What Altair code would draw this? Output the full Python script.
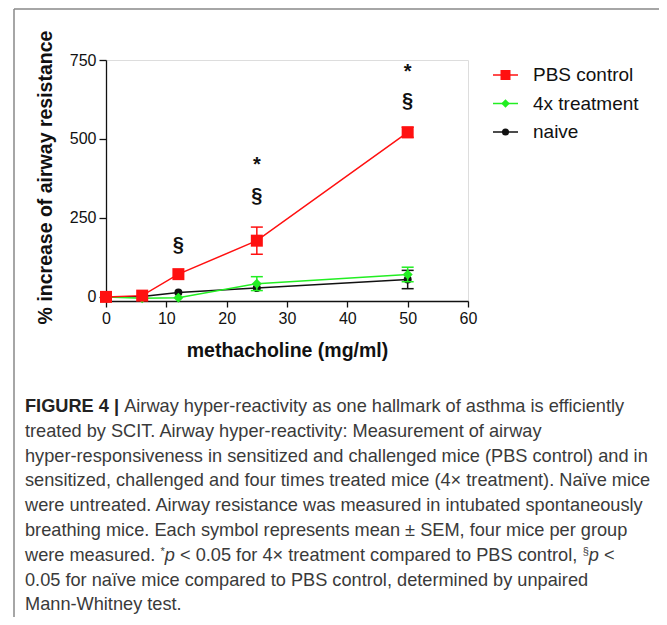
import altair as alt
import pandas as pd

# ---------------- data ----------------
doses = [0, 6, 12, 25, 50]
pbs_mean = [0, 4, 72, 178, 521]
pbs_sem = [0, 0, 0, 43, 16]
tx_mean = [0, -4, -3, 42, 71]
tx_sem = [0, 0, 0, 22, 23]
naive_mean = [0, 1, 14, 28, 55]
naive_sem = [0, 0, 0, 0, 29]

series_names = ["PBS control", "4x treatment", "naive"]
series_colors = ["#ff1010", "#22ee22", "#111111"]
series_shapes = ["square", "diamond", "circle"]
series_sizes = [144, 100, 64]
legend_sizes = [100, 72, 50]

sig_dose = [12, 25, 25, 50, 50]
sig_level = [163, 417, 320, 713, 620]
sig_symbol = ["§", "*", "§", "*", "§"]

x_ticks = [0, 10, 20, 30, 40, 50, 60]
y_ticks = [0, 250, 500, 750]
x_title = "methacholine (mg/ml)"
y_title = "% increase of airway resistance"

caption_lines = [
    "FIGURE 4 | Airway hyper-reactivity as one hallmark of asthma is efficiently",
    "treated by SCIT. Airway hyper-reactivity: Measurement of airway",
    "hyper-responsiveness in sensitized and challenged mice (PBS control) and in",
    "sensitized, challenged and four times treated mice (4\u00d7 treatment). Na\u00efve mice",
    "were untreated. Airway resistance was measured in intubated spontaneously",
    "breathing mice. Each symbol represents mean \u00b1 SEM, four mice per group",
    "were measured. *p < 0.05 for 4\u00d7 treatment compared to PBS control, \u00a7p <",
    "0.05 for na\u00efve mice compared to PBS control, determined by unpaired",
    "Mann-Whitney test.",
]

# ---------------- layout constants ----------------
FONT = "Liberation Sans"
W, H = 362, 241
PAD = {"left": 98, "top": 52, "right": 191, "bottom": 316}
CAP_COLOR = "#3a3a3a"
CAP_SIZE = 18.2
CAP_X = 25 - 106
CAP_Y0 = 412 - 60
CAP_DY = 24.8

# Arial-compatible advance widths (1/1000 em)
WR = {' ': 278, '.': 278, ',': 278, '*': 389, '<': 584, '0': 556, '4': 556, '5': 556,
      '\u00d7': 584, '\u00a7': 556, 'p': 556, 'P': 667, 'B': 667, 'S': 667, 'm': 833,
      'w': 722, 'r': 333, 's': 500, 'c': 500, 't': 278, 'f': 278, 'l': 222, 'i': 222,
      'o': 556, 'n': 556, 'e': 556, 'a': 556, 'u': 556, 'd': 556}
WB = {'F': 611, 'I': 278, 'G': 778, 'U': 722, 'R': 722, 'E': 667, ' ': 278,
      '4': 556, '|': 280}


def tw(s, size, table):
    return sum(table.get(ch, 556) for ch in s) * size / 1000.0


one = pd.DataFrame({"k": [0]})


def seg(text, x, y, size=CAP_SIZE, weight="normal", style="normal", color=CAP_COLOR):
    # leading blanks are dropped by the renderer: shift the text instead
    lead = len(text) - len(text.lstrip(" "))
    x = x + lead * 0.278 * size
    return alt.Chart(one).mark_text(
        text=text.strip(" "), align="left", baseline="alphabetic", font=FONT, fontSize=size,
        fontWeight=weight, fontStyle=style, color=color,
    ).encode(x=alt.value(x), y=alt.value(y))


# ---------------- data frames ----------------
means = [pbs_mean, tx_mean, naive_mean]
sems = [pbs_sem, tx_sem, naive_sem]

X = alt.X("dose:Q", scale=alt.Scale(domain=[0, 60], nice=False, zero=False),
          axis=alt.Axis(values=x_ticks, title=x_title, grid=False, tickSize=6,
                        labelFontSize=16, labelPadding=3, labelFont=FONT,
                        titleFont=FONT, titleFontSize=19.5, titleFontWeight="bold",
                        titleX=181, titleY=49, titleAlign="center", titleBaseline="middle",
                        domainColor="#111", tickColor="#111", labelColor="#111",
                        titleColor="#111", domainWidth=1.3, tickWidth=1.3, labelFlush=False))
Y = alt.Y("mean:Q", scale=alt.Scale(domain=[-13, 750], nice=False, zero=False),
          axis=alt.Axis(values=y_ticks, title=y_title, grid=False, tickSize=7,
                        labelFontSize=16, labelPadding=3, labelFont=FONT,
                        titleFont=FONT, titleFontSize=19.5, titleFontWeight="bold",
                        titleX=-61, titleY=117, titleAngle=270, titleAlign="center",
                        titleBaseline="middle",
                        domainColor="#111", tickColor="#111", labelColor="#111",
                        titleColor="#111", domainWidth=1.3, tickWidth=1.3))

layers = []
# draw order: naive, 4x treatment, PBS control (PBS on top)
for idx in [2, 1, 0]:
    df = pd.DataFrame({"dose": doses, "mean": means[idx], "sem": sems[idx]})
    df["lo"] = df["mean"] - df["sem"]
    df["hi"] = df["mean"] + df["sem"]
    err = df[df["sem"] > 0]
    caps = pd.DataFrame({"dose": list(err["dose"]) * 2,
                         "mean": list(err["lo"]) + list(err["hi"])})
    col = series_colors[idx]
    base = alt.Chart(df)
    layers.append(base.mark_line(color=col, strokeWidth=1.5).encode(x=X, y=Y))
    if len(err):
        layers.append(alt.Chart(err).mark_rule(color=col, strokeWidth=1.5).encode(
            x=X, y=alt.Y("lo:Q"), y2="hi:Q"))
        layers.append(alt.Chart(caps).mark_tick(color=col, orient="horizontal", size=12,
                                                thickness=1.5, opacity=1).encode(x=X, y=Y))
    layers.append(base.mark_point(shape=series_shapes[idx], filled=True, opacity=1,
                                  size=series_sizes[idx], color=col, strokeWidth=0)
                  .encode(x=X, y=Y))

sig_df = pd.DataFrame({"dose": sig_dose, "mean": sig_level, "sym": sig_symbol})
layers.append(alt.Chart(sig_df).mark_text(font=FONT, fontSize=20, fontWeight="bold",
                                          color="#111", baseline="middle")
              .encode(x=X, y=Y, text="sym:N"))

# legend (custom)
for i, name in enumerate(series_names):
    ly = 15 + i * 28.5
    col = series_colors[i]
    layers.append(alt.Chart(one).mark_rule(color=col, strokeWidth=1.5).encode(
        x=alt.value(387), x2=alt.value(412), y=alt.value(ly)))
    layers.append(alt.Chart(one).mark_point(shape=series_shapes[i], filled=True, opacity=1,
                                            size=legend_sizes[i], color=col, strokeWidth=0)
                  .encode(x=alt.value(399.5), y=alt.value(ly)))
    layers.append(alt.Chart(one).mark_text(text=name, font=FONT, fontSize=19, color="#111",
                                           align="left", baseline="middle")
                  .encode(x=alt.value(427), y=alt.value(ly)))

# frame border
layers.append(alt.Chart(one).mark_rule(color="#888888", strokeWidth=1.5).encode(
    x=alt.value(-92), y=alt.value(-51), y2=alt.value(560)))
layers.append(alt.Chart(one).mark_rule(color="#888888", strokeWidth=1.5).encode(
    x=alt.value(-92), x2=alt.value(560), y=alt.value(-51)))

# caption
for i, line in enumerate(caption_lines):
    y = CAP_Y0 + i * CAP_DY
    if i == 0:
        bold = "FIGURE 4 |"
        layers.append(seg(bold, CAP_X, y, weight="bold", color="#222222"))
        layers.append(seg(line[len(bold):], CAP_X + tw(bold, CAP_SIZE, WB), y))
    elif i == 6:
        parts = ["were measured. ", "*", "p", " < 0.05 for 4\u00d7 treatment compared to PBS control, ",
                 "\u00a7", "p", " <"]
        x = CAP_X
        for p in parts:
            if p in ("*", "\u00a7"):
                layers.append(seg(p, x, y - 6, size=11))
                x += tw(p, 11, WR)
            elif p == "p":
                layers.append(seg(p, x, y, style="italic"))
                x += tw(p, CAP_SIZE, WR)
            else:
                layers.append(seg(p, x, y))
                x += tw(p, CAP_SIZE, WR)
    else:
        layers.append(seg(line, CAP_X, y))

chart = alt.layer(*layers).properties(
    width=W, height=H, padding=PAD,
    autosize=alt.AutoSizeParams(type="none"),
).configure_view(stroke=None).configure(font=FONT)

chart.save("out.html", embed_options={"renderer": "svg", "actions": False})
